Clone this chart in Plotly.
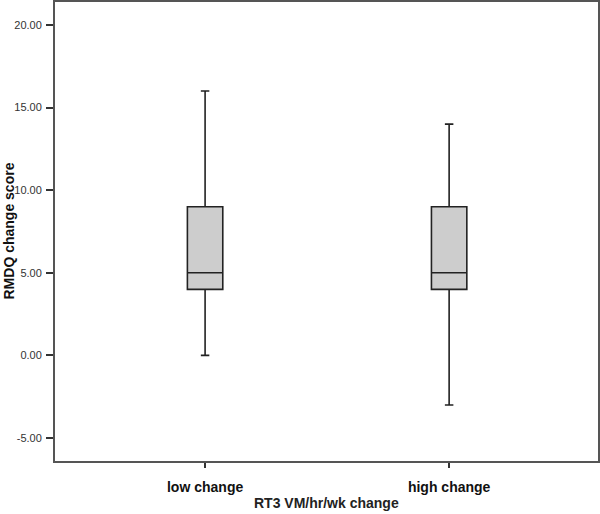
import plotly.graph_objects as go

groups = ["low change", "high change"]
lower_whisker = [0, -3]
q1 = [4, 4]
median = [5, 5]
q3 = [9, 9]
upper_whisker = [16, 14]
y_ticks = [-5, 0, 5, 10, 15, 20]

fig = go.Figure()
for i, name in enumerate(groups):
    fig.add_trace(go.Box(
        x=[i], q1=[q1[i]], median=[median[i]], q3=[q3[i]],
        lowerfence=[lower_whisker[i]], upperfence=[upper_whisker[i]],
        width=0.145, whiskerwidth=0.24,
        fillcolor="#cdcdcd", line=dict(color="#222222", width=1.6),
        name=name, showlegend=False, hoverinfo="skip",
    ))

fig.update_layout(
    width=600, height=514,
    margin=dict(l=55, r=2, t=2, b=53),
    plot_bgcolor="white", paper_bgcolor="white",
    font=dict(family="Liberation Sans, Arial", color="#222222"),
)
fig.update_xaxes(
    range=[-0.615, 1.61], tickvals=[0, 1], ticktext=groups,
    tickfont=dict(size=14, family="Liberation Sans, Arial", weight="bold", color="#111111"),
    ticks="outside", ticklen=5, tickcolor="#333333", tickwidth=1.5, ticklabelstandoff=7,
    showline=True, linecolor="#555555", linewidth=2, mirror=True,
    showgrid=False, zeroline=False, automargin=False,
)
fig.update_yaxes(
    range=[-6.39, 21.39], tickvals=y_ticks, ticktext=["%.2f" % v for v in y_ticks],
    tickfont=dict(size=11, color="#333333"),
    ticks="outside", ticklen=7, tickcolor="#333333", tickwidth=1.5, ticklabelstandoff=2,
    showline=True, linecolor="#555555", linewidth=2, mirror=True,
    showgrid=False, zeroline=False, automargin=False,
)

# axis titles
fig.add_annotation(text="RT3 VM/hr/wk change", xref="paper", yref="paper",
                   x=0.5, y=0, yanchor="middle", yshift=-42, showarrow=False,
                   font=dict(size=14, color="#222222", weight=600))
fig.add_annotation(text="RMDQ change score", xref="paper", yref="paper",
                   x=0, y=0.5, xanchor="center", yanchor="middle", xshift=-47,
                   textangle=-90, showarrow=False,
                   font=dict(size=14, color="#111111", weight="bold"))

fig.write_html("out.html", config={"displayModeBar": False},
               post_script="document.body.style.margin='0';")
